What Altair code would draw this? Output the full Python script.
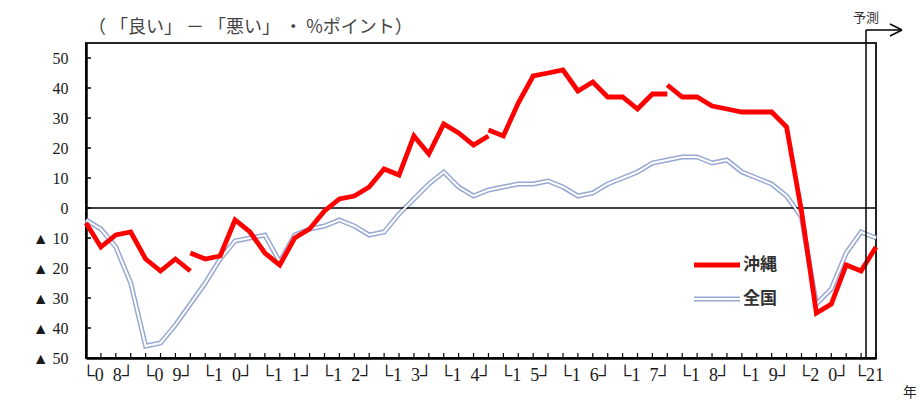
import altair as alt
import pandas as pd

# ---------------- data ----------------
SP = "\u2002"
year_labels = ["└0" + SP + "8┘", "└0" + SP + "9┘", "└1" + SP + "0┘", "└1" + SP + "1┘",
               "└1" + SP + "2┘", "└1" + SP + "3┘", "└1" + SP + "4┘", "└1" + SP + "5┘",
               "└1" + SP + "6┘", "└1" + SP + "7┘", "└1" + SP + "8┘", "└1" + SP + "9┘",
               "└2" + SP + "0┘", "└21"]
n_quarters = 54  # 2008 Q1 ... 2021 Q2 (forecast)

series_names = ["沖縄", "全国"]

# 全国 (national) DI, one value per quarter
national = [-4, -7, -13, -25, -46, -45, -39, -32,
            -25, -17, -11, -10, -9, -18, -9, -7,
            -6, -4, -6, -9, -8, -2, 3, 8,
            12, 7, 4, 6, 7, 8, 8, 9,
            7, 4, 5, 8, 10, 12, 15, 16,
            17, 17, 15, 16, 12, 10, 8, 4,
            -3, -32, -27, -15, -8, -10]

# 沖縄 (Okinawa) DI, drawn in segments (survey basis changes)
okinawa_segments = [
    [-5, -13, -9, -8, -17, -21, -17, -21],
    [-15, -17, -16, -4, -8, -15, -19, -10, -7, -1, 3, 4, 7, 13, 11, 24, 18,
     28, 25, 21, 24],
    [26, 24, 35, 44, 45, 46, 39, 42, 37, 37, 33, 38, 38],
    [41, 37, 37, 34, 33, 32, 32, 32, 27, -1, -35, -32, -19, -21, -13],
]
segment_start = [0, 7, 27, 39]

y_ticks = list(range(-50, 51, 10))
y_title = "（ 「良い」 － 「悪い」 ・ %ポイント）"
forecast_label = "予測"
year_unit = "年"

# ---------------- frames ----------------
nat_df = pd.DataFrame({"q": list(range(n_quarters)), "v": national})
rows = []
for s, (start, vals) in enumerate(zip(segment_start, okinawa_segments)):
    for k, v in enumerate(vals):
        rows.append({"q": start + k, "v": v, "seg": s})
oki_df = pd.DataFrame(rows)

lab_rows = []
for k, lab in enumerate(year_labels):
    idx = [i for i in range(4 * k, 4 * k + 4) if i < n_quarters]
    lab_rows.append({"q": sum(idx) / len(idx), "lab": lab})
lab_df = pd.DataFrame(lab_rows)

SERIF = "Liberation Serif"
W, H = 790, 315
xscale = alt.Scale(domain=[0, n_quarters - 1], nice=False, zero=False)
yscale = alt.Scale(domain=[-50, 55], nice=False, zero=False)

yaxis = alt.Axis(values=y_ticks, grid=False, title=None, tickSize=0,
                 labelPadding=18, domainColor="black", domainWidth=2.5,
                 labelFont=SERIF, labelFontSize=16,
                 labelColor="#1a1a1a",
                 labelExpr="datum.value < 0 ? '▲ ' + abs(datum.value) : '' + datum.value")
xaxis = alt.Axis(labels=False, ticks=False, grid=False, title=None,
                 domainColor="black", domainWidth=2.5)


def X(field="q"):
    return alt.X(f"{field}:Q", scale=xscale, axis=xaxis)


def Y(field="v"):
    return alt.Y(f"{field}:Q", scale=yscale, axis=yaxis)


nat_outer = alt.Chart(nat_df).mark_line(color="#98a8d2", strokeWidth=5).encode(x=X(), y=Y())
nat_inner = alt.Chart(nat_df).mark_line(color="white", strokeWidth=2).encode(x=X(), y=Y())
oki = alt.Chart(oki_df).mark_line(color="#ff0000", strokeWidth=4.8).encode(
    x=X(), y=Y(), detail="seg:N")

zero = alt.Chart(pd.DataFrame({"v": [0]})).mark_rule(color="black", strokeWidth=1.5).encode(y=Y())

ytick = alt.Chart(pd.DataFrame({"v": y_ticks})).mark_rule(color="black", strokeWidth=1.5).encode(
    y=Y(), x=alt.value(0), x2=alt.value(5))
xtick = alt.Chart(pd.DataFrame({"q": list(range(n_quarters))})).mark_rule(
    color="black", strokeWidth=1.2).encode(x=X(), y=alt.value(H), y2=alt.value(H - 5))

year_text = alt.Chart(lab_df).mark_text(font=SERIF, fontSize=18,
                                        color="#1a1a1a", baseline="middle").encode(
    x=X(), y=alt.value(H + 18), text="lab:N")

one = pd.DataFrame({"a": [0]})


def txt(s, x, y, size, align="left", font="Noto Sans CJK JP", color="#333", weight="normal"):
    return alt.Chart(one).mark_text(text=s, font=font, fontSize=size, align=align,
                                    baseline="middle", color=color, fontWeight=weight).encode(
        x=alt.value(x), y=alt.value(y))


def seg(x1, y1, x2, y2, color="black", w=1.5):
    return alt.Chart(one).mark_rule(color=color, strokeWidth=w).encode(
        x=alt.value(x1), y=alt.value(y1), x2=alt.value(x2), y2=alt.value(y2))


title = txt(y_title, 2, -15, 18, color="#444")
unit = txt(year_unit, 817, 350, 14, color="#222")
fc_text = txt(forecast_label, 780, -25, 13, align="center", color="#333")
fc_lines = [
    seg(780, -13, 780, H),
    seg(780, -13, 816, -13),
    seg(804, -19, 816, -13),
    seg(804, -7, 816, -13),
]

leg = [
    seg(608, 222, 654, 222, color="#ff0000", w=4.8),
    txt(series_names[0], 657, 222, 17, weight="bold"),
    seg(608, 256, 654, 256, color="#98a8d2", w=5),
    seg(608, 256, 654, 256, color="white", w=2),
    txt(series_names[1], 657, 256, 17, weight="bold"),
]

chart = alt.layer(
    nat_outer, zero, ytick, xtick, nat_inner, oki, year_text,
    title, unit, fc_text, *fc_lines, *leg,
).properties(
    width=W, height=H,
    autosize=alt.AutoSizeParams(type="none"),
    padding={"left": 78, "top": 35, "right": 40, "bottom": 45},
).configure_view(stroke="#222", strokeWidth=2)

chart.save("out.html", embed_options={"renderer": "svg", "actions": False})
